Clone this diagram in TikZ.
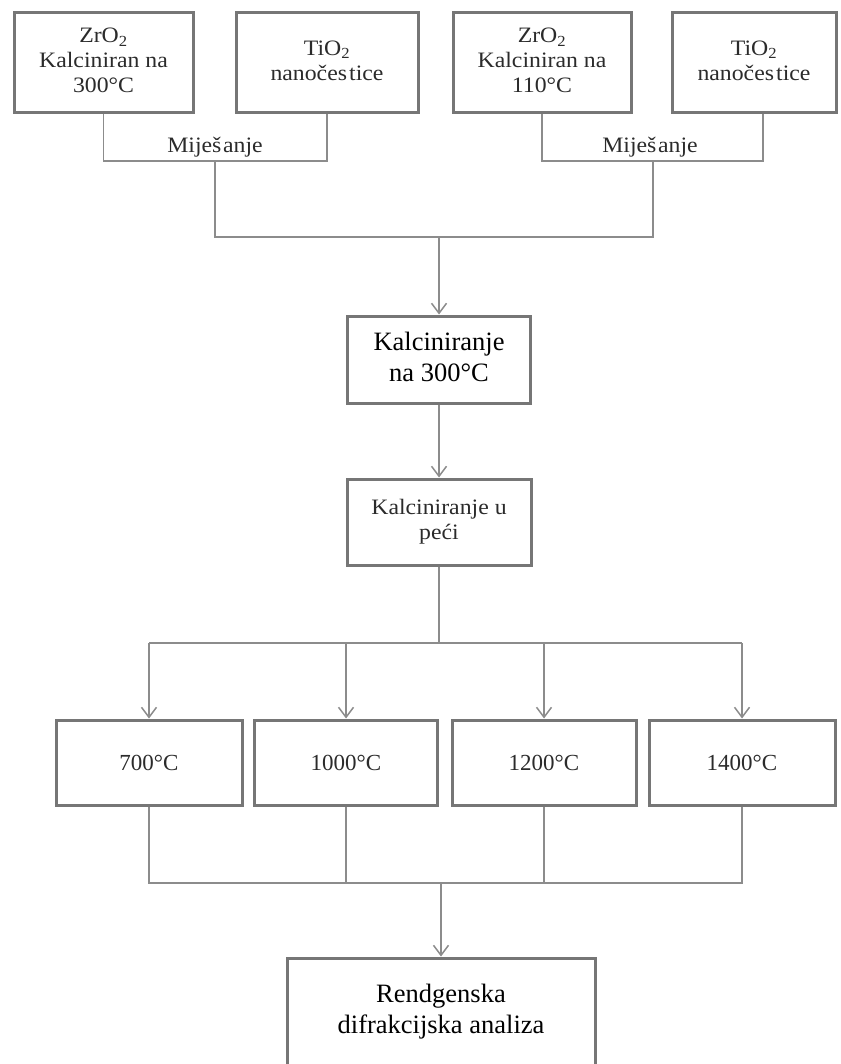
\documentclass[tikz,border=0pt]{standalone}
\usepackage{fontspec}
\usepackage{graphicx}
\setmainfont{Liberation Serif}
\usetikzlibrary{arrows.meta}
\definecolor{boxgray}{HTML}{767676}
\definecolor{linegray}{HTML}{8C8C8C}
\definecolor{blurtext}{HTML}{2B2B2B}
\newcommand{\wtxt}[2][1.08]{\scalebox{#1}[1]{\begin{tabular}{@{}c@{}}#2\end{tabular}}}
\begin{document}
\begin{tikzpicture}[x=1pt,y=-1pt,
  box/.style={draw=boxgray, line width=3pt, fill=white, inner sep=0pt, align=center, text=black},
  conn/.style={draw=linegray, line width=1.5pt},
  arr/.style={conn, -{Straight Barb[length=10pt,width=15pt]}},
  blur/.style={font=\fontsize{22}{25}\selectfont, text=blurtext},
  temp/.style={font=\fontsize{23}{27}\selectfont, text=blurtext},
  big/.style={font=\fontsize{26.5}{31}\selectfont, text=black}]
\useasboundingbox (0,0) rectangle (840,1064);
% top boxes
\node[box, blur, minimum width=179pt, minimum height=100pt] (A) at (103.5,63) {\wtxt{ZrO\textsubscript{2}\\Kalciniran na\\300°C}};
\node[box, blur, minimum width=182pt, minimum height=100pt] (B) at (327,63) {\wtxt{TiO\textsubscript{2}\\nanočes\kern2pt tice}};
\node[box, blur, minimum width=178pt, minimum height=100pt] (C) at (542,63) {\wtxt{ZrO\textsubscript{2}\\Kalciniran na\\110°C}};
\node[box, blur, minimum width=164pt, minimum height=100pt] (D) at (754,63) {\wtxt{TiO\textsubscript{2}\\nanočes\kern2pt tice}};
% mixing brackets
\coordinate (m1) at (215,161);
\coordinate (m2) at (653,161);
\coordinate (r2) at (763,161);
\coordinate (j) at (439,237);
\draw[conn] (A.south) -- (A.south |- m1) -- (B.south |- m1) -- (B.south);
\draw[conn] (C.south) -- (C.south |- m2) -- (r2) -- (r2 |- D.south);
\node[blur, inner sep=0pt] (mix1) at (215,148) {\wtxt{Miješ\kern1.5pt anje}};
\node[blur, inner sep=0pt] (mix2) at (650,148) {\wtxt{Miješ\kern1.5pt anje}};
% middle column
\node[box, big, minimum width=183pt, minimum height=87pt] (K1) at (439,359.5) {\begin{tabular}{@{}c@{}}Kalciniranje\\na 300°C\end{tabular}};
\node[box, blur, minimum width=184pt, minimum height=86pt] (K2) at (439,522) {\wtxt{Kalciniranje u\\peći}};
\draw[conn] (m1) |- (j);
\draw[conn] (m2) |- (j);
\draw[arr] (j) -- (K1.north);
\draw[arr] (K1.south) -- (K2.north);
% temperature boxes
\coordinate (h) at (439,643);
\node[box, temp, minimum width=186pt, minimum height=85pt] (T1) at (149,762.5) {700°C};
\node[box, temp, minimum width=183pt, minimum height=85pt] (T2) at (346,762.5) {1000°C};
\node[box, temp, minimum width=184pt, minimum height=85pt] (T3) at (544,762.5) {1200°C};
\node[box, temp, minimum width=186pt, minimum height=85pt] (T4) at (742,762.5) {1400°C};
\draw[conn] (K2.south) -- (h);
\draw[conn] (T1.north |- h) -- (T4.north |- h);
\foreach \t in {T1,T2,T3,T4} {\draw[arr] (\t.north |- h) -- (\t.north);}
% collecting lines
\coordinate (b) at (441,883);
\draw[conn] (T1.south) -- (T1.south |- b) -- (T4.south |- b) -- (T4.south);
\draw[conn] (T2.south) -- (T2.south |- b);
\draw[conn] (T3.south) -- (T3.south |- b);
\node[box, big, minimum width=308pt, minimum height=108pt] (R) at (441,1012) {\begin{tabular}{@{}c@{}}Rendgenska\\difrakcijska analiza\end{tabular}};
\draw[arr] (b) -- (R.north);
\end{tikzpicture}
\end{document}
